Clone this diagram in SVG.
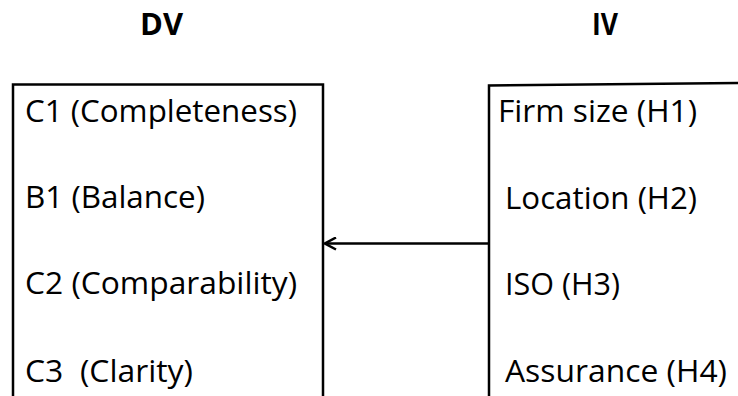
<svg xmlns="http://www.w3.org/2000/svg" width="738" height="396" viewBox="0 0 738 396">
<style>
.box{fill:none;stroke:#000;stroke-width:2.5}
.t{font-family:"Open Sans","Liberation Sans",sans-serif;font-size:31px;fill:#000}
.h{font-family:"Open Sans","Liberation Sans",sans-serif;font-size:30px;font-weight:bold;fill:#000}
.c{fill:none;stroke:#000;stroke-width:2.5}
</style>
<defs>
<marker id="ah" viewBox="0 0 14 14" refX="13" refY="7" markerWidth="14" markerHeight="14" markerUnits="userSpaceOnUse" orient="auto">
<path d="M2,1 L13,7 L2,13" fill="none" stroke="#000" stroke-width="2.5"/>
</marker>
</defs>
<g id="title-dv"><text class="h" x="140" y="35" textLength="43" lengthAdjust="spacingAndGlyphs">DV</text></g>
<g id="title-iv"><text class="h" x="592" y="35" textLength="26" lengthAdjust="spacingAndGlyphs">IV</text></g>
<g id="dv">
<path class="box" d="M13,398 V84.5 H323 V398"/>
<text class="t" x="25" y="122" textLength="272" lengthAdjust="spacingAndGlyphs">C1 (Completeness)</text>
<text class="t" x="25" y="208" textLength="180" lengthAdjust="spacingAndGlyphs">B1 (Balance)</text>
<text class="t" x="25" y="294" textLength="272" lengthAdjust="spacingAndGlyphs">C2 (Comparability)</text>
<text class="t" x="25" y="382" textLength="168" lengthAdjust="spacingAndGlyphs">C3&#160; (Clarity)</text>
</g>
<g id="iv">
<path class="box" d="M489,398 V85.5 L740,83"/>
<text class="t" x="498" y="122" textLength="199" lengthAdjust="spacingAndGlyphs">Firm size (H1)</text>
<text class="t" x="505" y="209" textLength="192" lengthAdjust="spacingAndGlyphs">Location (H2)</text>
<text class="t" x="505" y="295" textLength="115" lengthAdjust="spacingAndGlyphs">ISO (H3)</text>
<text class="t" x="505" y="382" textLength="222" lengthAdjust="spacingAndGlyphs">Assurance (H4)</text>
</g>
<g id="connectors">
<path class="c" d="M489,243.5 H325" marker-end="url(#ah)"/>
</g>
</svg>
